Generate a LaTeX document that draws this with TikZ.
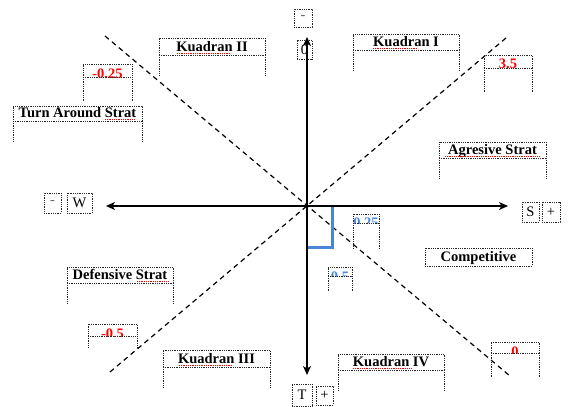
\documentclass[tikz,border=0pt]{standalone}
\usepackage{fontspec}
\setmainfont{Liberation Serif}
\usetikzlibrary{arrows.meta}
\definecolor{bl}{RGB}{74,134,216}
\definecolor{rd}{RGB}{255,0,0}
\newcommand\hdrbox[7]{%
 \node[frame, minimum width={#4-#2}, minimum height={#5-#3}] (#1) at ({(#2+#4)/2},{(#3+#5)/2}) {};
 \draw[frame] (#1.south west) -- ++(0,{#6-#5});
 \draw[frame] (#1.south east) -- ++(0,{#6-#5});
 \node[ttl] (#1t) at ([yshift=3.5pt]#1.south) {#7};}
\newcommand\valbox[9]{%
 \begin{scope}
 \clip (#2,#3) rectangle (#4,#5);
 \node[val, text=#9] (#1t) at ({(#2+#4)/2},#7) {#8};
 \end{scope}
 \node[frame, minimum width={#4-#2}, minimum height={#5-#3}] (#1) at ({(#2+#4)/2},{(#3+#5)/2}) {};
 \draw[frame] (#1.south west) -- ++(0,{#6-#5});
 \draw[frame] (#1.south east) -- ++(0,{#6-#5});}
\begin{document}
\begin{tikzpicture}[x=1pt,y=-1pt,
 frame/.style={draw=black!85, densely dotted, line width=0.8pt, inner sep=0pt, outer sep=0pt},
 ttl/.style={font=\fontsize{14.5}{16}\selectfont\bfseries, inner sep=0pt, anchor=base},
 val/.style={font=\fontsize{14.5}{16}\selectfont\bfseries, inner sep=0pt, anchor=base},
 lab/.style={frame, font=\fontsize{14.5}{16}\selectfont},
 ax/.style={line width=1.3pt, {Stealth[length=9pt,width=8pt,inset=2.5pt]}-{Stealth[length=9pt,width=8pt,inset=2.5pt]}},
 diag/.style={dash pattern=on 5pt off 4pt, line width=1.2pt},
 squig/.style={rd, densely dotted, line width=0.8pt}]
\useasboundingbox (0,0) rectangle (568,407);

% diagonals
\coordinate (d1a) at (105,36);
\coordinate (d1b) at (510,376);
\coordinate (d2a) at (506,38);
\coordinate (d2b) at (110,372);
\draw[diag] (d1a) -- (d1b);
\draw[diag] (d2a) -- (d2b);

% quadrant / strategy boxes
\hdrbox{k2}{159}{38}{265}{55}{75}{Kuadran II}
\hdrbox{k1}{353}{34}{459}{50}{71}{Kuadran I}
\hdrbox{tas}{13}{106}{142}{121}{142}{Turn Around  Strat}
\hdrbox{ags}{439}{142}{546}{158}{178}{Agresive Strat}
\hdrbox{dfs}{67}{267}{173}{283}{303}{Defensive Strat}
\hdrbox{k3}{163}{350}{270}{367}{387}{Kuadran III}
\hdrbox{k4}{338}{354}{444}{370}{391}{Kuadran IV}
\node[frame, minimum width=107, minimum height=18] (cmp) at (478.5,257) {};
\node[ttl] (cmpt) at ([yshift=5pt]cmp.south) {Competitive};

% value boxes
\valbox{vm25}{83}{64}{132}{77}{102}{78}{-0.25}{rd}
\valbox{v35}{484}{55}{532}{68}{92}{68}{3.5}{rd}
\valbox{v0}{491}{342}{539}{353}{377}{356}{0}{rd}
\valbox{vm5}{88}{324}{137}{336}{347}{338.5}{-0.5}{rd}
\valbox{v025}{353}{214}{379}{223}{249}{227}{0.25}{bl}
\valbox{v05}{328}{267}{352}{276}{292}{281}{0.5}{bl}

% spelling squiggles
\draw[squig] (177,53.5) -- (230,53.5);
\draw[squig] (373,48.5) -- (418,48.5);
\draw[squig] (105,119.5) -- (135,119.5);
\draw[squig] (445,156) -- (540,156);
\draw[squig] (137,281.5) -- (168,281.5);
\draw[squig] (179,365.5) -- (233,365.5);
\draw[squig] (353,368.5) -- (412,368.5);

% axis labels
\node[lab, minimum width=18, minimum height=18, text=black!60] (mtop) at (303,18) {-};
\node[lab, minimum width=15, minimum height=19] (ztop) at (304.5,49.5) {0};
\node[lab, minimum width=17, minimum height=20, text=black!60] (mw) at (52.5,203) {-};
\node[lab, minimum width=25, minimum height=20] (w) at (79.5,203) {W};
\node[lab, minimum width=17, minimum height=20] (s) at (530.5,212) {S};
\node[lab, minimum width=18, minimum height=20] (ps) at (551,212) {+};
\node[lab, minimum width=20, minimum height=22] (t) at (302,395) {T};
\node[lab, minimum width=17, minimum height=19] (pt) at (324.5,395.5) {+};

% blue marker
\draw[bl, line width=3pt] (332,207) -- (332,247) -- (308,247);

% axes
\coordinate (top) at (307,37);
\coordinate (bot) at (307,375);
\coordinate (lft) at (106,206);
\coordinate (rgt) at (508,206);
\draw[ax] (bot) -- (top);
\draw[ax] (lft) -- (rgt);
\end{tikzpicture}
\end{document}
